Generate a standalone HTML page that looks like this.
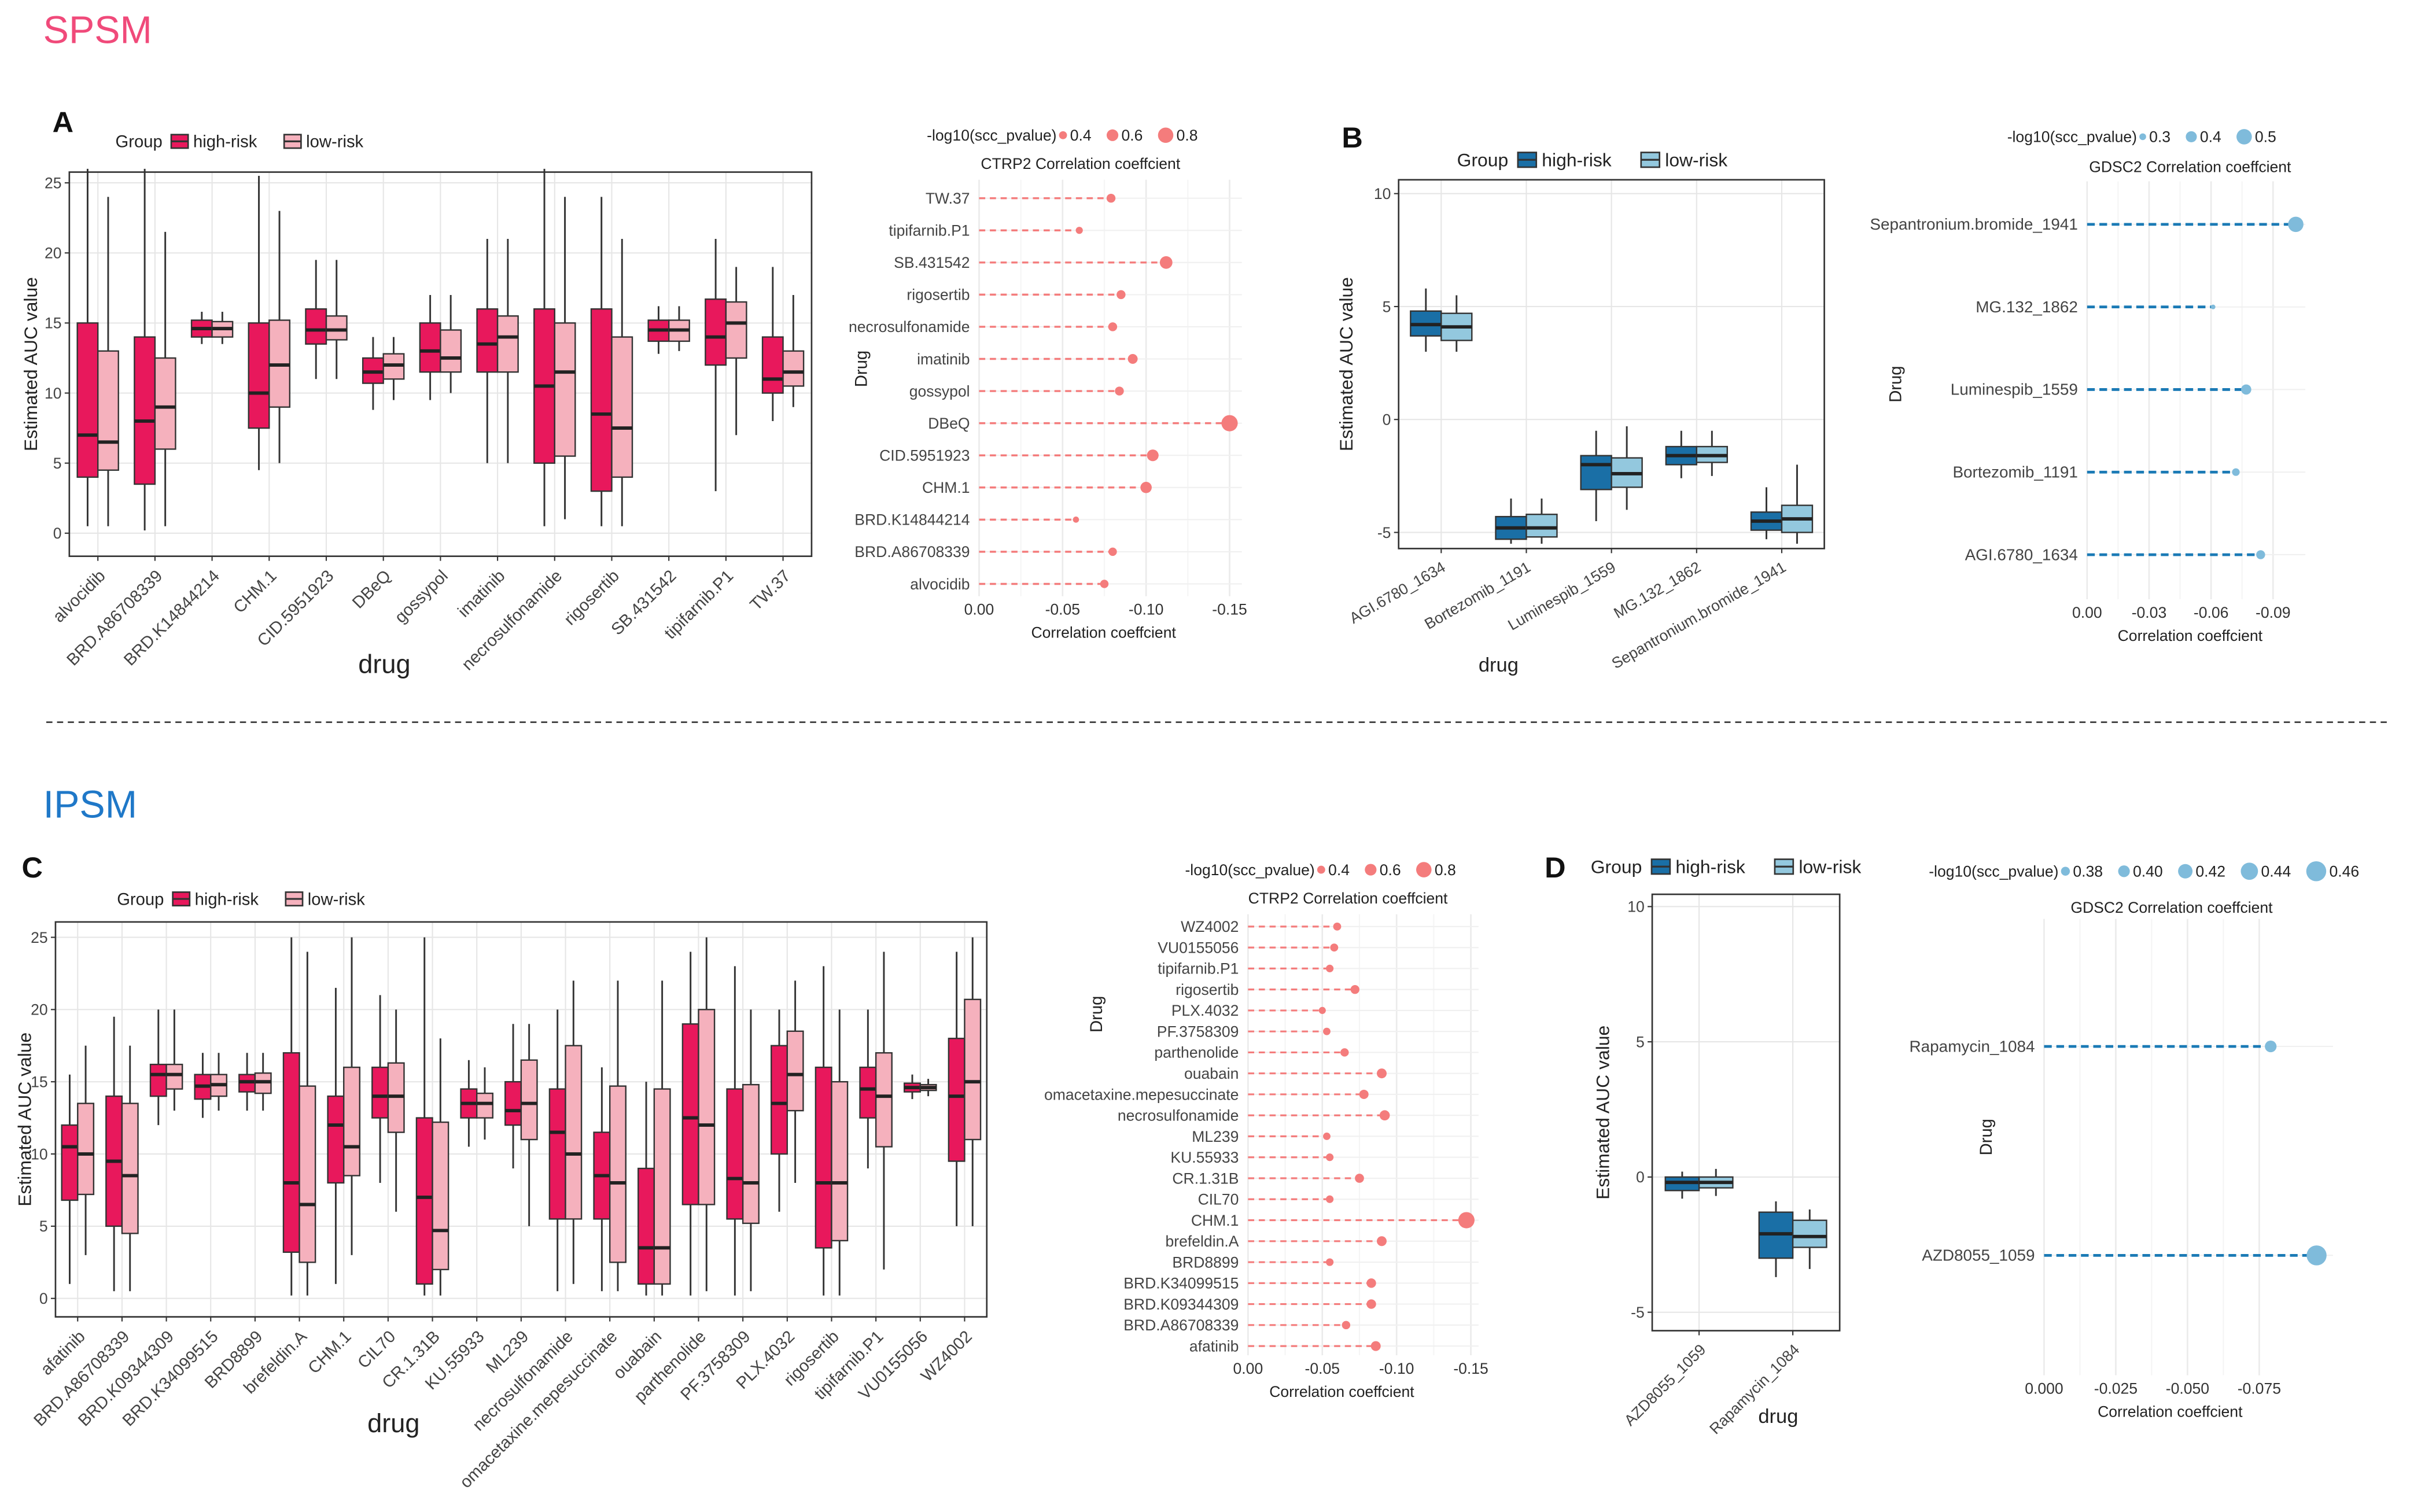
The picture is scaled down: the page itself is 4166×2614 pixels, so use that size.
<!DOCTYPE html>
<html><head><meta charset="utf-8">
<style>
html,body{margin:0;padding:0;background:#fff;}
svg{display:block;font-family:"Liberation Sans",Arial,sans-serif;}
</style></head>
<body>
<svg id="fig" width="4166" height="2614" viewBox="0 0 1568 984" xmlns="http://www.w3.org/2000/svg">
<rect x="0" y="0" width="1568" height="984" fill="#fff"/>
<text x="28" y="28" font-size="25" fill="#f04a7a">SPSM</text>
<text x="28" y="532" font-size="25" fill="#1f78c8">IPSM</text>
<line x1="30" y1="470" x2="1556" y2="470" stroke="#333" stroke-width="1" stroke-dasharray="4,3"/>
<g id="layer"></g>
</svg>
<script>
// ---------- Panel A data ----------
const aCats = ["alvocidib","BRD.A86708339","BRD.K14844214","CHM.1","CID.5951923","DBeQ","gossypol","imatinib","necrosulfonamide","rigosertib","SB.431542","tipifarnib.P1","TW.37"];
const aHigh = [[4,7,15,0.5,26],[3.5,8,14,0.2,26],[14,14.6,15.2,13.5,15.8],[7.5,10,15,4.5,25.5],[13.5,14.5,16,11,19.5],[10.7,11.5,12.5,8.8,14],[11.5,13,15,9.5,17],[11.5,13.5,16,5,21],[5,10.5,16,0.5,26],[3,8.5,16,0.5,24],[13.7,14.5,15.2,12.8,16.2],[12,14,16.7,3,21],[10,11,14,8,19]];
const aLow = [[4.5,6.5,13,0.5,24],[6,9,12.5,0.5,21.5],[14,14.6,15.1,13.5,15.8],[9,12,15.2,5,23],[13.8,14.5,15.5,11,19.5],[11,12,12.8,9.5,14],[11.5,12.5,14.5,10,17],[11.5,14,15.5,5,21],[5.5,11.5,15,1,24],[4,7.5,14,0.5,21],[13.7,14.5,15.2,13,16.2],[12.5,15,16.5,7,19],[10.5,11.5,13,9,17]];
const aTicks = [0,5,10,15,20,25];
// ---------- Panel A lollipop ----------
const a2Drugs = ["TW.37","tipifarnib.P1","SB.431542","rigosertib","necrosulfonamide","imatinib","gossypol","DBeQ","CID.5951923","CHM.1","BRD.K14844214","BRD.A86708339","alvocidib"];
const a2Corr = [-0.079,-0.060,-0.112,-0.085,-0.080,-0.092,-0.084,-0.150,-0.104,-0.100,-0.058,-0.080,-0.075];
const a2P = [0.45,0.35,0.65,0.45,0.45,0.5,0.45,0.85,0.6,0.58,0.3,0.42,0.42];
const a2Ticks = [0,-0.05,-0.10,-0.15];
const a2TickLabels = ["0.00","-0.05","-0.10","-0.15"];
// ---------- Panel B ----------
const bCats = ["AGI.6780_1634","Bortezomib_1191","Luminespib_1559","MG.132_1862","Sepantronium.bromide_1941"];
const bHigh = [[3.7,4.2,4.8,3,5.8],[-5.3,-4.8,-4.3,-5.5,-3.5],[-3.1,-2,-1.6,-4.5,-0.5],[-2,-1.6,-1.2,-2.6,-0.5],[-4.9,-4.5,-4.1,-5.3,-3]];
const bLow = [[3.5,4.1,4.7,3,5.5],[-5.2,-4.8,-4.2,-5.5,-3.5],[-3,-2.4,-1.7,-4,-0.3],[-1.9,-1.6,-1.2,-2.5,-0.5],[-5,-4.4,-3.8,-5.5,-2]];
const bTicks = [-5,0,5,10];
const b2Drugs = ["Sepantronium.bromide_1941","MG.132_1862","Luminespib_1559","Bortezomib_1191","AGI.6780_1634"];
const b2Corr = [-0.101,-0.061,-0.077,-0.072,-0.084];
const b2P = [0.5,0.25,0.38,0.32,0.35];
const b2Ticks = [0,-0.03,-0.06,-0.09];
const b2TickLabels = ["0.00","-0.03","-0.06","-0.09"];
// ---------- Panel C ----------
const cCats = ["afatinib","BRD.A86708339","BRD.K09344309","BRD.K34099515","BRD8899","brefeldin.A","CHM.1","CIL70","CR.1.31B","KU.55933","ML239","necrosulfonamide","omacetaxine.mepesuccinate","ouabain","parthenolide","PF.3758309","PLX.4032","rigosertib","tipifarnib.P1","VU0155056","WZ4002"];
const cHigh = [[6.8,10.5,12,1,15.5],[5,9.5,14,0.5,19.5],[14,15.5,16.2,12,20],[13.8,14.7,15.5,12.5,17],[14.3,15,15.5,13,17],[3.2,8,17,0.2,25],[8,12,14,1,21.5],[12.5,14,16,8,21],[1,7,12.5,0.2,25],[12.5,13.5,14.5,10.5,16.5],[12,13,15,9,19],[5.5,11.5,14.5,0.5,20],[5.5,8.5,11.5,0.5,16],[1,3.5,9,0.2,15],[6.5,12.5,19,0.2,24],[5.5,8.3,14.5,0.2,23],[10,13.5,17.5,6,20],[3.5,8,16,0.2,23],[12.5,14.5,16,9,20],[14.3,14.6,14.9,13.8,15.5],[9.5,14,18,5,24]];
const cLow = [[7.2,10,13.5,3,17.5],[4.5,8.5,13.5,0.5,17.5],[14.5,15.5,16.2,13,20],[14,14.8,15.5,13,17],[14.2,15,15.6,13,17],[2.5,6.5,14.7,0.2,24],[8.5,10.5,16,3,25],[11.5,14,16.3,6,20],[2,4.7,12.2,0.2,18],[12.5,13.5,14.2,11,16],[11,13.5,16.5,5,19],[5.5,10,17.5,1,22],[2.5,8,14.7,0.5,22],[1,3.5,14.5,0.2,22],[6.5,12,20,0.5,25],[5.2,8,14.8,0.5,20],[13,15.5,18.5,8,22],[4,8,15,0.2,20],[10.5,14,17,2,24],[14.4,14.6,14.8,14,15.2],[11,15,20.7,5,25]];
const cTicks = [0,5,10,15,20,25];
const c2Drugs = ["WZ4002","VU0155056","tipifarnib.P1","rigosertib","PLX.4032","PF.3758309","parthenolide","ouabain","omacetaxine.mepesuccinate","necrosulfonamide","ML239","KU.55933","CR.1.31B","CIL70","CHM.1","brefeldin.A","BRD8899","BRD.K34099515","BRD.K09344309","BRD.A86708339","afatinib"];
const c2Corr = [-0.060,-0.058,-0.055,-0.072,-0.050,-0.053,-0.065,-0.090,-0.078,-0.092,-0.053,-0.055,-0.075,-0.055,-0.147,-0.090,-0.055,-0.083,-0.083,-0.066,-0.086];
const c2P = [0.4,0.4,0.38,0.45,0.35,0.37,0.42,0.5,0.47,0.52,0.37,0.38,0.46,0.38,0.85,0.5,0.38,0.48,0.48,0.42,0.5];
const c2Ticks = [0,-0.05,-0.10,-0.15];
const c2TickLabels = ["0.00","-0.05","-0.10","-0.15"];
// ---------- Panel D ----------
const dCats = ["AZD8055_1059","Rapamycin_1084"];
const dHigh = [[-0.5,-0.2,0,-0.8,0.2],[-3,-2.1,-1.3,-3.7,-0.9]];
const dLow = [[-0.4,-0.2,0,-0.7,0.3],[-2.6,-2.2,-1.6,-3.4,-1.2]];
const dTicks = [-5,0,5,10];
const d2Drugs = ["Rapamycin_1084","AZD8055_1059"];
const d2Corr = [-0.079,-0.095];
const d2P = [0.40,0.46];
const d2Ticks = [0,-0.025,-0.05,-0.075];
const d2TickLabels = ["0.000","-0.025","-0.050","-0.075"];

const NS="http://www.w3.org/2000/svg";
const layer=document.getElementById('layer');
function mk(tag,attrs,parent,txt){const e=document.createElementNS(NS,tag);for(const k in attrs)e.setAttribute(k,attrs[k]);if(txt!==undefined)e.textContent=txt;(parent||layer).appendChild(e);return e;}

function legendGroup(x,y,c1,c2,fs,name){
  const g=mk('g',{});
  
  
  mk('text',{x:x,y:y+fs*0.35,'font-size':fs,fill:'#222'},g,'Group');
  let cx=x+fs*3.3;
  [[c1,'high-risk'],[c2,'low-risk']].forEach(([c,t])=>{
    const k=mk('rect',{x:cx,y:y-fs*0.4,width:fs*1.0,height:fs*0.8,fill:c,stroke:'#333','stroke-width':1},g);
    
    
    mk('line',{x1:cx,x2:cx+fs,y1:y,y2:y,stroke:'#333','stroke-width':1.2},g);
    const tt=mk('text',{x:cx+fs*1.3,y:y+fs*0.35,'font-size':fs,fill:'#222'},g,t);
    
    
    cx+=fs*1.3+t.length*fs*0.52+fs*0.7;
  });
}

function boxPanel(o){
  const g=mk('g',{});
  
  
  const ys=v=>o.yA+(v-o.vA)*(o.yB-o.yA)/(o.vB-o.vA);
  const n=o.cats.length, band=(o.x1-o.x0)/n;
  const xs=i=>o.x0+band*(i+0.5);
  mk('rect',{x:o.x0,y:o.y0,width:o.x1-o.x0,height:o.y1-o.y0,fill:'#fff'},g);
  o.ticks.forEach(t=>{
    mk('line',{x1:o.x0,x2:o.x1,y1:ys(t),y2:ys(t),stroke:'#e6e6e6','stroke-width':0.8},g);
    mk('line',{x1:o.x0-3,x2:o.x0,y1:ys(t),y2:ys(t),stroke:'#333','stroke-width':0.8},g);
    const tl=mk('text',{x:o.x0-5,y:ys(t)+3.5,'font-size':o.tfs,fill:'#444','text-anchor':'end'},g,String(t));
    
    
  });
  for(let i=0;i<n;i++){
    mk('line',{x1:xs(i),x2:xs(i),y1:o.y0,y2:o.y1,stroke:'#e6e6e6','stroke-width':0.8},g);
  }
  const bw=band*o.bwf;
  for(let i=0;i<n;i++){
    [[o.hi[i],-1,o.c1,'high'],[o.lo[i],1,o.c2,'low']].forEach(([d,s,c,nm])=>{
      const cx=xs(i)+s*bw/2;
      const bg=mk('g',{},g);
      
      
      mk('line',{x1:cx,x2:cx,y1:ys(d[3]),y2:ys(d[4]),stroke:'#333','stroke-width':1.1},bg);
      mk('rect',{x:cx-bw/2,y:ys(d[2]),width:bw,height:Math.max(0.5,ys(d[0])-ys(d[2])),fill:c,stroke:'#333','stroke-width':0.9},bg);
      mk('line',{x1:cx-bw/2,x2:cx+bw/2,y1:ys(d[1]),y2:ys(d[1]),stroke:'#222','stroke-width':2.2},bg);
    });
    const lx=xs(i), ly=o.y1+8;
    mk('line',{x1:lx,x2:lx,y1:o.y1,y2:o.y1+3,stroke:'#333','stroke-width':0.8},g);
    const t=mk('text',{x:lx,y:ly,'font-size':o.xfs,fill:'#444','text-anchor':'end',transform:`rotate(${-o.rot} ${lx} ${ly})`,dy:'0.7em'},g,o.cats[i]);
    
    
  }
  mk('rect',{x:o.x0,y:o.y0,width:o.x1-o.x0,height:o.y1-o.y0,fill:'none',stroke:'#333','stroke-width':1},g);
  const yt=mk('text',{x:o.ytx,y:(o.y0+o.y1)/2,'font-size':o.yfs,fill:'#222','text-anchor':'middle',transform:`rotate(-90 ${o.ytx} ${(o.y0+o.y1)/2})`},g,'Estimated AUC value');
  
  
  const xt=mk('text',{x:o.xtx,y:o.xty,'font-size':o.xtfs,fill:'#222','text-anchor':'middle'},g,'drug');
  
  
}

function lolliPanel(o){
  const g=mk('g',{});
  
  
  const xsc=v=>o.xZero+v*(o.xRef-o.xZero)/o.vRef;
  const n=o.drugs.length;
  const ysc=i=>o.yFirst+i*(o.yLast-o.yFirst)/(n-1);
  const r=p=>o.rMin+(p-o.pMin)*o.rK;
  o.ticks.forEach((t,k)=>{
    mk('line',{x1:xsc(t),x2:xsc(t),y1:o.y0,y2:o.y1,stroke:'#ebebeb','stroke-width':1},g);
    const tl=mk('text',{x:xsc(t),y:o.y1+12,'font-size':o.tfs,fill:'#333','text-anchor':'middle'},g,o.tickLabels[k]);
    
    
  });
  for(let k=0;k<o.ticks.length-1;k++){
    const m=(o.ticks[k]+o.ticks[k+1])/2;
    mk('line',{x1:xsc(m),x2:xsc(m),y1:o.y0,y2:o.y1,stroke:'#f5f5f5','stroke-width':0.8},g);
  }
  for(let i=0;i<n;i++){
    const y=ysc(i);
    mk('line',{x1:o.xZero,x2:o.xRight,y1:y,y2:y,stroke:'#f0f0f0','stroke-width':0.8},g);
    const seg=mk('line',{x1:o.xZero,x2:xsc(o.corr[i]),y1:y,y2:y,stroke:o.col,'stroke-width':o.lw,'stroke-dasharray':o.dash},g);
    
    
    const c=mk('circle',{cx:xsc(o.corr[i]),cy:y,r:r(o.p[i]),fill:o.pcol},g);
    
    
    const tl=mk('text',{x:o.xZero-6,y:y+3.5,'font-size':o.dfs,fill:'#444','text-anchor':'end'},g,o.drugs[i]);
    
    
  }
  const tt=mk('text',{x:o.titleX,y:o.titleY,'font-size':o.tfs,fill:'#222','text-anchor':'middle'},g,o.title);
  
  
  const xt=mk('text',{x:o.xtX,y:o.y1+27,'font-size':o.tfs,fill:'#222','text-anchor':'middle'},g,'Correlation coeffcient');
  
  
  const dt=mk('text',{x:o.drugX,y:o.drugY,'font-size':o.tfs+1,fill:'#222','text-anchor':'middle',transform:`rotate(-90 ${o.drugX} ${o.drugY})`},g,'Drug');
  
  
  const lg=mk('g',{},g);
  
  
  mk('text',{x:o.legX,y:o.legY+3.5,'font-size':o.tfs,fill:'#222'},lg,'-log10(scc_pvalue)');
  let lx=o.legX+o.tfs*8.6;
  o.legVals.forEach(v=>{
    const rr=r(v);
    mk('circle',{cx:lx+rr,cy:o.legY,r:rr,fill:o.pcol},lg);
    const s=v.toFixed(o.legDec);
    const e=mk('text',{x:lx+2*rr+2,y:o.legY+3.5,'font-size':o.tfs,fill:'#222'},lg,s);
    
    
    lx+=2*rr+4+s.length*o.tfs*0.56+5;
  });
}

function label(t,x,y){const e=mk('text',{x:x,y:y,'font-size':19,'font-weight':'bold',fill:'#111'},layer,t);

}

const pink='#e8185c', lpink='#f5b1bd', dblue='#1a6fa6', lblue='#93c8de';
label('A',34,86);
legendGroup(75,92,pink,lpink,11,'legend-a');
boxPanel({name:'boxplot-a',cats:aCats,hi:aHigh,lo:aLow,ticks:aTicks,x0:45,x1:528,y0:112,y1:362,vA:0,yA:347,vB:25,yB:119,bwf:0.36,c1:pink,c2:lpink,rot:45,tfs:10,xfs:11,yfs:12,ytx:24,xtx:250,xty:438,xtfs:17});
lolliPanel({name:'lollipop-a',drugs:a2Drugs,corr:a2Corr,p:a2P,ticks:a2Ticks,tickLabels:a2TickLabels,xZero:637,xRef:800,vRef:-0.15,xRight:808,y0:117,y1:388,yFirst:129,yLast:380,col:'#f47c7c',pcol:'#f47c7c',lw:1.3,dash:'4,3',rMin:2,pMin:0.3,rK:6,tfs:10,dfs:10,title:'CTRP2 Correlation coeffcient',titleX:703,titleY:110,xtX:718,drugX:564,drugY:240,legX:603,legY:88,legVals:[0.4,0.6,0.8],legDec:1});
label('B',873,96);
legendGroup(948,104,dblue,lblue,12,'legend-b');
boxPanel({name:'boxplot-b',cats:bCats,hi:bHigh,lo:bLow,ticks:bTicks,x0:910,x1:1187,y0:117,y1:357,vA:0,yA:273,vB:10,yB:126,bwf:0.36,c1:dblue,c2:lblue,rot:30,tfs:10,xfs:10,yfs:12,ytx:880,xtx:975,xty:437,xtfs:13});
lolliPanel({name:'lollipop-b',drugs:b2Drugs,corr:b2Corr,p:b2P,ticks:b2Ticks,tickLabels:b2TickLabels,xZero:1358,xRef:1479,vRef:-0.09,xRight:1500,y0:118,y1:390,yFirst:146,yLast:361,col:'#1a7ab5',pcol:'#7fbbdb',lw:1.8,dash:'5,3',rMin:1.5,pMin:0.25,rK:14,tfs:10,dfs:10.5,title:'GDSC2 Correlation coeffcient',titleX:1425,titleY:112,xtX:1425,drugX:1237,drugY:250,legX:1306,legY:89,legVals:[0.3,0.4,0.5],legDec:1});
label('C',14,571);
legendGroup(76,585,pink,lpink,11,'legend-c');
boxPanel({name:'boxplot-c',cats:cCats,hi:cHigh,lo:cLow,ticks:cTicks,x0:36,x1:642,y0:600,y1:857,vA:0,yA:845,vB:25,yB:610,bwf:0.36,c1:pink,c2:lpink,rot:45,tfs:10,xfs:11,yfs:12,ytx:20,xtx:256,xty:932,xtfs:17});
lolliPanel({name:'lollipop-c',drugs:c2Drugs,corr:c2Corr,p:c2P,ticks:c2Ticks,tickLabels:c2TickLabels,xZero:812,xRef:957,vRef:-0.15,xRight:962,y0:595,y1:882,yFirst:603,yLast:876,col:'#f47c7c',pcol:'#f47c7c',lw:1.2,dash:'4,3',rMin:2,pMin:0.3,rK:6,tfs:10,dfs:10,title:'CTRP2 Correlation coeffcient',titleX:877,titleY:588,xtX:873,drugX:717,drugY:660,legX:771,legY:566,legVals:[0.4,0.6,0.8],legDec:1});
label('D',1005,571);
legendGroup(1035,564,dblue,lblue,12,'legend-d');
boxPanel({name:'boxplot-d',cats:dCats,hi:dHigh,lo:dLow,ticks:dTicks,x0:1075,x1:1197,y0:582,y1:866,vA:0,yA:766,vB:10,yB:590,bwf:0.36,c1:dblue,c2:lblue,rot:45,tfs:10,xfs:10,yfs:12,ytx:1047,xtx:1157,xty:926,xtfs:13});
lolliPanel({name:'lollipop-d',drugs:d2Drugs,corr:d2Corr,p:d2P,ticks:d2Ticks,tickLabels:d2TickLabels,xZero:1330,xRef:1470,vRef:-0.075,xRight:1518,y0:598,y1:895,yFirst:681,yLast:817,col:'#1a7ab5',pcol:'#7fbbdb',lw:1.8,dash:'5,3',rMin:2,pMin:0.36,rK:45,tfs:10,dfs:10.5,title:'GDSC2 Correlation coeffcient',titleX:1413,titleY:594,xtX:1412,drugX:1296,drugY:740,legX:1255,legY:567,legVals:[0.38,0.40,0.42,0.44,0.46],legDec:2});
</script>
</body></html>
